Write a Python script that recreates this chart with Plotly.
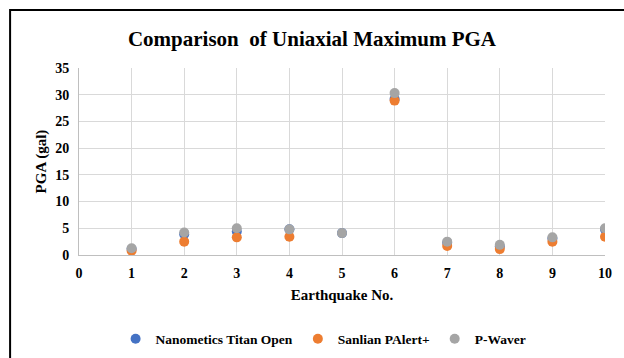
import plotly.graph_objects as go

quake_no = [1, 2, 3, 4, 5, 6, 7, 8, 9, 10]
titan = [1.1, 3.9, 4.4, 4.8, 4.1, 29.2, 2.3, 1.6, 3.1, 4.8]
sanlian = [0.8, 2.5, 3.3, 3.4, None, 28.9, 1.7, 1.1, 2.5, 3.4]
pwaver = [1.25, 4.2, 5.0, 4.8, 4.1, 30.3, 2.5, 1.9, 3.3, 5.0]

FF = "Liberation Serif"

fig = go.Figure()
fig.add_trace(go.Scatter(x=quake_no, y=titan, mode="markers", name="Nanometics Titan Open",
                         marker=dict(color="#4472C4", size=10)))
fig.add_trace(go.Scatter(x=quake_no, y=sanlian, mode="markers", name="Sanlian PAlert+",
                         marker=dict(color="#ED7D31", size=10)))
fig.add_trace(go.Scatter(x=quake_no, y=pwaver, mode="markers", name="P-Waver",
                         marker=dict(color="#A5A5A5", size=10)))

fig.update_layout(
    width=624, height=358,
    margin=dict(l=79, r=12, t=68, b=103),
    paper_bgcolor="white", plot_bgcolor="white",
    font=dict(family=FF, color="black"),
    title=dict(text="Comparison  of Uniaxial Maximum PGA", x=0.5, xanchor="center",
               y=1 - 39 / 358, yanchor="middle",
               font=dict(family=FF, size=21, weight="bold", color="black")),
    showlegend=True,
    legend=dict(orientation="h", x=0.465, xanchor="center", yref="container", y=1 - 339 / 358,
                yanchor="middle", font=dict(family=FF, size=13.5, weight="bold", color="black"),
                itemwidth=30, traceorder="normal"),
    shapes=[dict(type="rect", xref="paper", yref="paper", x0=-0.131, x1=1.2, y0=-0.8, y1=1.31,
                 line=dict(color="black", width=2), fillcolor="rgba(0,0,0,0)", layer="below")],
)
fig.update_xaxes(range=[0, 10], tickvals=list(range(0, 11)), showgrid=True, gridcolor="#D9D9D9",
                 gridwidth=1, showline=True, linecolor="#BFBFBF", zeroline=False, ticks="",
                 tickfont=dict(family=FF, size=14, weight="bold", color="black"), ticklabelstandoff=5,
                 title=dict(text="Earthquake No.", standoff=9,
                            font=dict(family=FF, size=15, weight="bold", color="black")))
fig.update_yaxes(range=[0, 35], tickvals=list(range(0, 36, 5)), showgrid=True, gridcolor="#D9D9D9",
                 gridwidth=1, showline=True, linecolor="#BFBFBF", zeroline=False, ticks="",
                 tickfont=dict(family=FF, size=14, weight="bold", color="black"), ticklabelstandoff=6,
                 title=dict(text="PGA (gal)", standoff=4,
                            font=dict(family=FF, size=15, weight="bold", color="black")))

fig.write_html("out.html")
